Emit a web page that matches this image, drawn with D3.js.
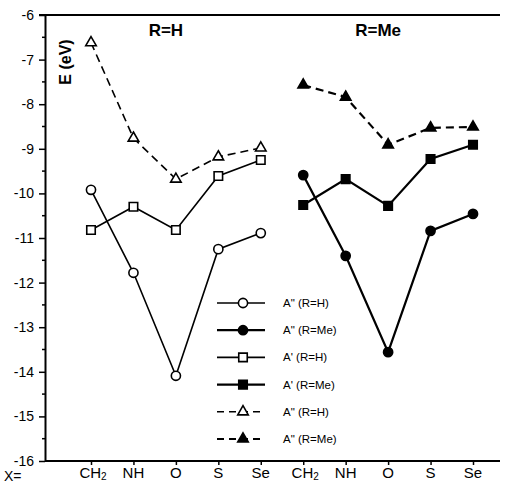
<!DOCTYPE html>
<html>
<head>
<meta charset="utf-8">
<script src="https://cdn.jsdelivr.net/npm/d3@7"></script>
<style>
  body { margin: 0; background: #fff; }
  svg { font-family: "Liberation Sans", Arial, sans-serif; }
</style>
</head>
<body>
<svg width="507" height="483"></svg>
<script>
// categories
const groups = ['R=H', 'R=Me'];
const substituents = ['CH2', 'NH', 'O', 'S', 'Se'];
const yTicks = [-6, -7, -8, -9, -10, -11, -12, -13, -14, -15, -16];

// energies (eV), order CH2, NH, O, S, Se
const aDblH = [-9.92, -11.78, -14.09, -11.25, -10.89];
const aDblMe = [-9.59, -11.40, -13.56, -10.84, -10.46];
const aPrimeH = [-10.82, -10.30, -10.82, -9.61, -9.25];
const aPrimeMe = [-10.26, -9.68, -10.28, -9.23, -8.91];
const aStarH = [-6.62, -8.76, -9.68, -9.18, -8.98];
const aStarMe = [-7.57, -7.84, -8.91, -8.53, -8.51];

const series = [
    { label: 'A" (R=H)', group: 'R=H', values: aDblH, shape: 'circle', filled: false, dashed: false },
    { label: 'A" (R=Me)', group: 'R=Me', values: aDblMe, shape: 'circle', filled: true, dashed: false },
    { label: "A' (R=H)", group: 'R=H', values: aPrimeH, shape: 'square', filled: false, dashed: false },
    { label: "A' (R=Me)", group: 'R=Me', values: aPrimeMe, shape: 'square', filled: true, dashed: false },
    { label: 'A" (R=H)', group: 'R=H', values: aStarH, shape: 'triangle', filled: false, dashed: true },
    { label: 'A" (R=Me)', group: 'R=Me', values: aStarMe, shape: 'triangle', filled: true, dashed: true },
];

const keys = groups.flatMap(g => substituents.map(s => `${g}|${s}`));

const svg = d3.select('svg');
const left = 45;
const right = 500;

const x = d3.scalePoint().domain(keys).range([91, 473]);
const y = d3.scaleLinear().domain([-16, -6]).range([461, 15]);

const symbols = {
    circle: d3.symbol().type(d3.symbolCircle).size(66),
    square: d3.symbol().type(d3.symbolSquare).size(72),
    triangle: d3.symbol().type(d3.symbolTriangle).size(48),
};

// frame: top line, left axis, bottom axis
svg.append('line')
    .attr('x1', left - 6).attr('x2', right)
    .attr('y1', y(-6)).attr('y2', y(-6))
    .attr('stroke', '#000').attr('stroke-width', 2);

const yAxis = svg.append('g')
    .attr('transform', `translate(${left},0)`)
    .call(d3.axisLeft(y).tickValues(yTicks).tickSize(6).tickSizeOuter(0)
        .tickFormat(d => `-${Math.abs(d)}`));
yAxis.select('.domain').attr('stroke-width', 2);
yAxis.selectAll('.tick line').attr('stroke-width', 1.5);
yAxis.selectAll('.tick text')
    .attr('font-size', 14).attr('fill', '#000').attr('x', -11);

// minor ticks at half units
svg.append('g').selectAll('line')
    .data(d3.range(-15.5, -6, 1))
    .join('line')
    .attr('x1', left - 3).attr('x2', left)
    .attr('y1', d => y(d)).attr('y2', d => y(d))
    .attr('stroke', '#000').attr('stroke-width', 1.5);

const xAxis = svg.append('g')
    .attr('transform', `translate(0,${y(-16)})`)
    .call(d3.axisBottom(x).tickSize(4).tickSizeOuter(0).tickFormat(''));
xAxis.select('.domain').remove();
xAxis.append('line')
    .attr('x1', left).attr('x2', right)
    .attr('stroke', '#000').attr('stroke-width', 2);
xAxis.selectAll('.tick line').attr('stroke-width', 1.5);

// x tick labels
const xl = svg.append('g').attr('font-size', 15).attr('text-anchor', 'middle');
keys.forEach((k) => {
    const s = k.split('|')[1];
    const t = xl.append('text')
        .attr('x', x(k) + (s === 'CH2' ? 2 : 0))
        .attr('y', 478);
    if (s === 'CH2') {
        t.append('tspan').text('CH');
        t.append('tspan').attr('font-size', 10).attr('dy', 2).text('2');
    } else {
        t.text(s);
    }
});
svg.append('text')
    .attr('x', 4).attr('y', 481)
    .attr('font-size', 14)
    .text('X=');

// y label, centred around y=62 like the original
svg.append('text')
    .attr('transform', 'rotate(-90)')
    .attr('x', -62)
    .attr('y', 71)
    .attr('text-anchor', 'middle')
    .attr('font-size', 16)
    .attr('font-weight', 'bold')
    .text('E (eV)');

// panel titles
svg.append('g').selectAll('text')
    .data(groups)
    .join('text')
    .attr('x', g => (x(`${g}|CH2`) + x(`${g}|Se`)) / 2 - 10)
    .attr('y', 36)
    .attr('text-anchor', 'middle')
    .attr('font-size', 17)
    .attr('font-weight', 'bold')
    .text(g => g);

// series lines
const line = d3.line()
    .x(d => x(d.key))
    .y(d => y(d.v));

const plot = svg.append('g');
series.forEach((s) => {
    const pts = s.values.map((v, i) => ({ key: `${s.group}|${substituents[i]}`, v }));
    s.pts = pts;
    plot.append('path')
        .datum(pts)
        .attr('d', line)
        .attr('fill', 'none')
        .attr('stroke', '#000')
        .attr('stroke-width', s.filled ? 2.2 : 1.6)
        .attr('stroke-dasharray', s.dashed ? '8,5' : null);
});
series.forEach((s) => {
    plot.append('g').selectAll('path')
        .data(s.pts)
        .join('path')
        .attr('d', symbols[s.shape])
        .attr('transform', d => `translate(${x(d.key)},${y(d.v)})`)
        .attr('fill', s.filled ? '#000' : '#fff')
        .attr('stroke', '#000')
        .attr('stroke-width', 1.6);
});

// legend
const legend = svg.append('g');
series.forEach((s, i) => {
    const ly = 303 + i * 27.2;
    const row = legend.append('g').attr('transform', `translate(0,${ly})`);
    row.append('line')
        .attr('x1', 217).attr('x2', 265)
        .attr('stroke', '#000')
        .attr('stroke-width', s.filled ? 2.2 : 1.6)
        .attr('stroke-dasharray', s.dashed ? '7,5' : null);
    row.append('path')
        .attr('d', symbols[s.shape])
        .attr('transform', 'translate(243,0)')
        .attr('fill', s.filled ? '#000' : '#fff')
        .attr('stroke', '#000')
        .attr('stroke-width', 1.6);
    row.append('text')
        .attr('x', 283).attr('y', 4)
        .attr('font-size', 11.5)
        .text(s.label);
});
</script>
</body>
</html>
